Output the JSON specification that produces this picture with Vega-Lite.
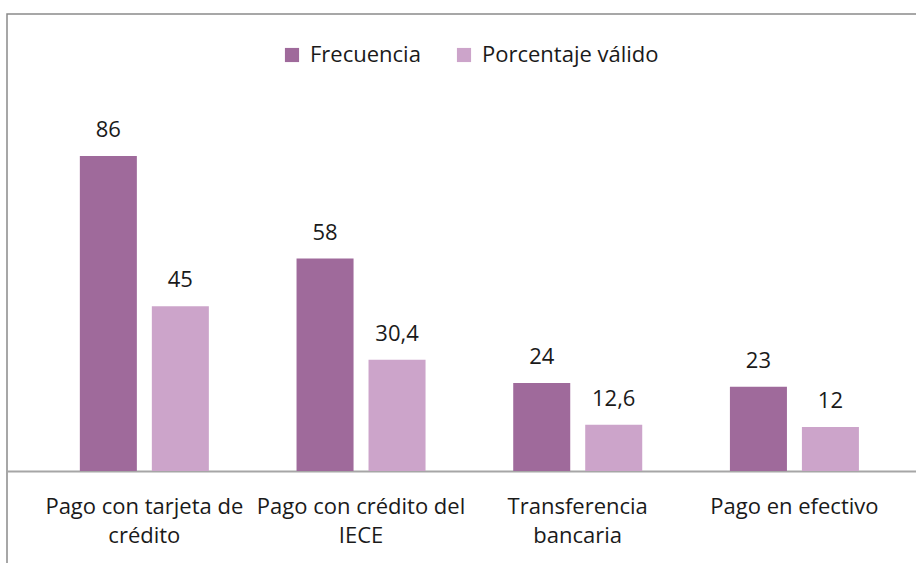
{
  "$schema": "https://vega.github.io/schema/vega-lite/v6.json",
  "width": 914,
  "height": 554,
  "autosize": {"type": "none"},
  "padding": {"left": 7, "top": 14, "right": -5, "bottom": -5},
  "background": "white",
  "config": {
    "font": "Open Sans",
    "view": {"stroke": "#8a8a8a", "strokeWidth": 1.5},
    "locale": {"number": {"decimal": ",", "thousands": ".", "grouping": [3], "currency": ["", " €"]}}
  },
  "data": {
    "values": [
      {"cat": "Pago con tarjeta de|crédito", "serie": "Frecuencia", "valor": 86},
      {"cat": "Pago con tarjeta de|crédito", "serie": "Porcentaje válido", "valor": 45},
      {"cat": "Pago con crédito del|IECE", "serie": "Frecuencia", "valor": 58},
      {"cat": "Pago con crédito del|IECE", "serie": "Porcentaje válido", "valor": 30.4},
      {"cat": "Transferencia|bancaria", "serie": "Frecuencia", "valor": 24},
      {"cat": "Transferencia|bancaria", "serie": "Porcentaje válido", "valor": 12.6},
      {"cat": "Pago en efectivo", "serie": "Frecuencia", "valor": 23},
      {"cat": "Pago en efectivo", "serie": "Porcentaje válido", "valor": 12}
    ]
  },
  "encoding": {
    "x": {
      "field": "cat", "type": "nominal", "sort": null, "title": null,
      "scale": {"paddingInner": 0, "paddingOuter": 0.109, "align": 0.614},
      "axis": {
        "labelExpr": "split(datum.label, '|')",
        "labelAngle": 0, "labelFontSize": 22, "labelColor": "#1a1a1a",
        "labelLineHeight": 29, "labelPadding": 25, "labelBaseline": "top",
        "labelLimit": 400, "labelOverlap": false,
        "ticks": false, "domainColor": "#a6a6a6", "domainWidth": 2,
        "offset": -97, "grid": false
      }
    },
    "xOffset": {
      "field": "serie", "type": "nominal", "sort": ["Frecuencia", "Porcentaje válido"],
      "scale": {"paddingInner": 0.208, "paddingOuter": 0.609}
    },
    "y": {
      "field": "valor", "type": "quantitative",
      "scale": {"domain": [-26.48, 124.76], "nice": false, "zero": false},
      "axis": null
    }
  },
  "layer": [
    {
      "mark": {"type": "bar"},
      "encoding": {
        "y2": {"datum": 0},
        "color": {
          "field": "serie", "type": "nominal", "sort": ["Frecuencia", "Porcentaje válido"],
          "scale": {"domain": ["Frecuencia", "Porcentaje válido"], "range": ["#9f6a9b", "#cca4ca"]},
          "legend": {
            "title": null, "orient": "none", "direction": "horizontal",
            "legendX": 274, "legendY": 30,
            "symbolType": "square", "symbolSize": 200,
            "labelFontSize": 22, "labelColor": "#1a1a1a", "labelOffset": 7,
            "labelLimit": 400, "columnPadding": 32
          }
        }
      }
    },
    {
      "mark": {"type": "text", "fontSize": 22, "color": "#1a1a1a", "baseline": "alphabetic", "dy": -19},
      "encoding": {
        "text": {"field": "valor", "type": "quantitative", "format": "~g"}
      }
    }
  ]
}
